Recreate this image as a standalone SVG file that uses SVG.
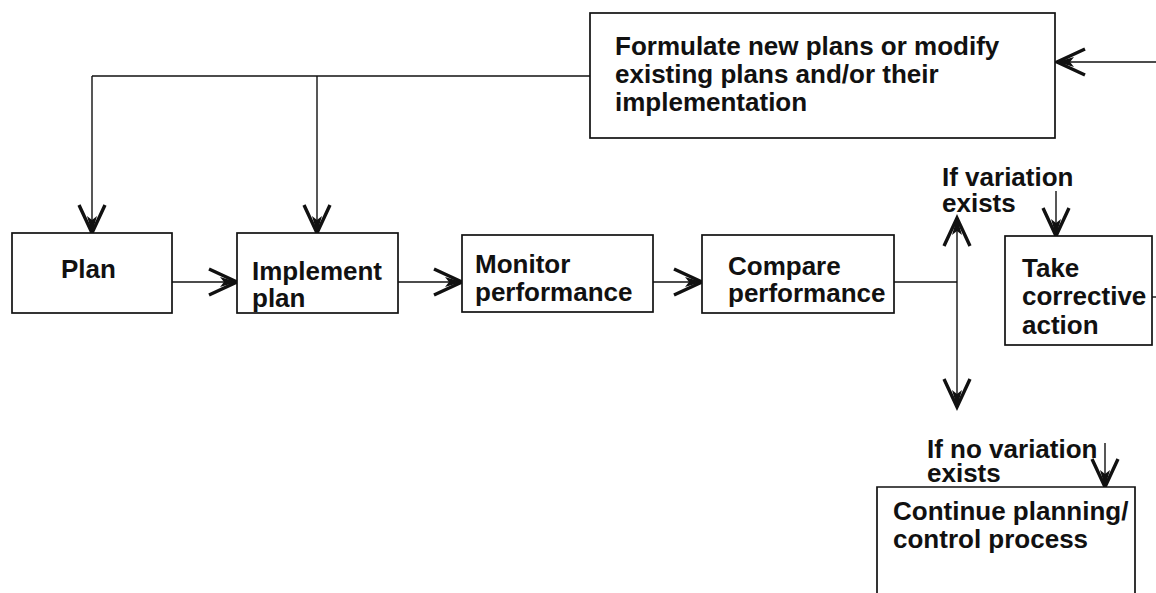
<svg xmlns="http://www.w3.org/2000/svg" width="1156" height="593" viewBox="0 0 1156 593">
  <style>
    .box { fill: #fff; stroke: #111; stroke-width: 1.7; }
    .lbl { font-family: "Liberation Sans", Arial, sans-serif; font-size: 26px; font-weight: bold; fill: #111; }
    .con { fill: none; stroke: #111; stroke-width: 1.4; }
    .arr { marker-end: url(#vhead); }
  </style>
  <defs>
    <!-- open "V" arrowhead with a filled core at the tip -->
    <marker id="vhead" markerUnits="userSpaceOnUse" viewBox="-32 -16 36 32" refX="0" refY="0" markerWidth="36" markerHeight="32" orient="auto" overflow="visible">
      <path d="M-28,-13 L0,0 L-28,13" fill="none" stroke="#111" stroke-width="3.4" stroke-linejoin="miter"/>
      <path d="M0,0 L-17,-5 L-13,0 L-17,5 Z" fill="#111"/>
    </marker>
  </defs>

  <rect width="1156" height="593" fill="#fff"/>

  <g id="connectors">
    <!-- feedback from the right into the formulate box -->
    <path class="con arr" d="M1156,62 L1057,62"/>
    <!-- formulate box back to plan and implement -->
    <path class="con" d="M590,76 L92,76"/>
    <path class="con arr" d="M92,76 L92,233"/>
    <path class="con arr" d="M317,76 L317,233"/>
    <!-- main row -->
    <path class="con arr" d="M172,282 L237,282"/>
    <path class="con arr" d="M398,282 L462,282"/>
    <path class="con arr" d="M653,282 L702,282"/>
    <path class="con" d="M894,282 L957,282"/>
    <!-- decision split -->
    <path class="con arr" d="M957,282 L957,218"/>
    <path class="con arr" d="M957,282 L957,407"/>
    <path class="con arr" d="M1056,191 L1056,236"/>
    <path class="con arr" d="M1105,443 L1105,487"/>
    <!-- corrective action return path -->
    <path class="con" d="M1152,297 L1156,297"/>
  </g>

  <g id="formulate">
    <rect class="box" x="590" y="13" width="465" height="125"/>
    <text class="lbl" x="615" y="55">Formulate new plans or modify</text>
    <text class="lbl" x="615" y="83">existing plans and/or their</text>
    <text class="lbl" x="615" y="111">implementation</text>
  </g>

  <g id="plan">
    <rect class="box" x="12" y="233" width="160" height="80"/>
    <text class="lbl" x="61" y="278">Plan</text>
  </g>

  <g id="implement">
    <rect class="box" x="237" y="233" width="161" height="80"/>
    <text class="lbl" x="252" y="280">Implement</text>
    <text class="lbl" x="252" y="307">plan</text>
  </g>

  <g id="monitor">
    <rect class="box" x="462" y="235" width="191" height="77"/>
    <text class="lbl" x="475" y="273">Monitor</text>
    <text class="lbl" x="475" y="301">performance</text>
  </g>

  <g id="compare">
    <rect class="box" x="702" y="235" width="192" height="78"/>
    <text class="lbl" x="728" y="275">Compare</text>
    <text class="lbl" x="728" y="302">performance</text>
  </g>

  <g id="variation-label">
    <text class="lbl" x="942" y="186">If variation</text>
    <text class="lbl" x="942" y="212">exists</text>
  </g>

  <g id="corrective">
    <rect class="box" x="1005" y="236" width="147" height="109"/>
    <text class="lbl" x="1022" y="277">Take</text>
    <text class="lbl" x="1022" y="305">corrective</text>
    <text class="lbl" x="1022" y="334">action</text>
  </g>

  <g id="no-variation-label">
    <text class="lbl" x="927" y="458">If no variation</text>
    <text class="lbl" x="927" y="482">exists</text>
  </g>

  <g id="continue">
    <path class="box" d="M877,600 L877,487 L1135,487 L1135,600"/>
    <text class="lbl" x="893" y="520">Continue planning/</text>
    <text class="lbl" x="893" y="548">control process</text>
  </g>
</svg>
